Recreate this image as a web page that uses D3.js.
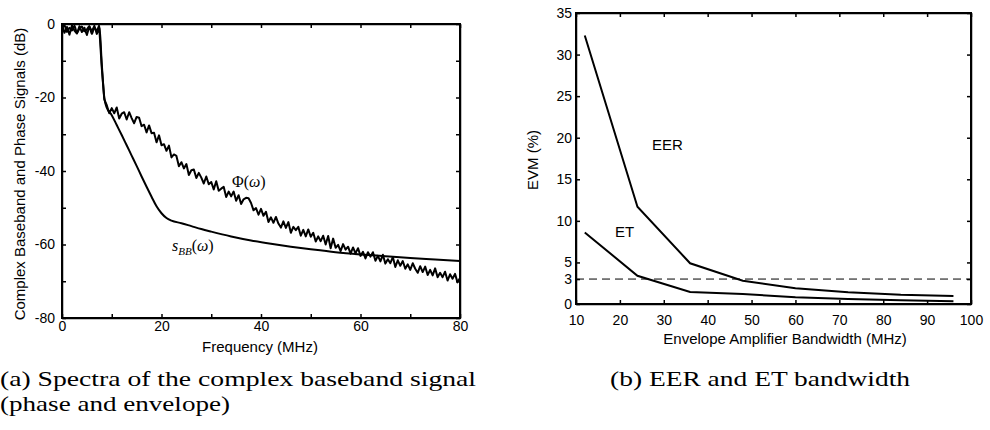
<!DOCTYPE html>
<html>
<head>
<meta charset="utf-8">
<script src="https://cdn.jsdelivr.net/npm/d3@7"></script>
<style>
  body { margin: 0; background: #fff; }
  svg { display: block; }
  .ax text { font-family: "Liberation Sans", Arial, sans-serif; font-size: 14px; fill: #000; }
  .ax path, .ax line { stroke: #000; stroke-width: 1.5; }
  .title { font-family: "Liberation Sans", Arial, sans-serif; font-size: 15px; }
  .note { font-family: "Liberation Serif", "Times New Roman", serif; font-size: 16px; }
  .cap { font-family: "Liberation Serif", "Times New Roman", serif; font-size: 22px; }
</style>
</head>
<body>
<svg id="svg" width="990" height="430"></svg>
<script>
// ---- (a) spectra ----
// phase spectrum, one sample every 0.5 MHz starting at 0 MHz
const phiStartMHz = 0;
const phiStepMHz = 0.5;
const phiDb = [
  -0.3, -2.4, -0.8, -2.9, -0.4, -1.8, -2.6, -0.6, -2.2, -1.0, -3.0, -0.7, -2.0, -0.5, -2.7, -1.2,
  -12.0, -20.5,
  -22.1, -24.3, -22.9, -24.3, -22.7, -25.7, -24.4, -24.0, -26.0, -24.0, -25.6, -27.0, -25.3, -25.5,
  -27.8, -27.4, -29.5, -27.6, -29.7, -29.6, -32.2, -30.3, -33.0, -32.7, -34.5, -33.1, -36.3, -35.5,
  -35.9, -38.7, -37.6, -39.3, -38.1, -41.1, -39.8, -39.6, -41.9, -40.5, -41.8, -43.4, -41.5, -43.6,
  -43.0, -45.0, -42.8, -45.4, -44.8, -44.3, -47.1, -45.6, -46.9, -45.6, -48.1, -46.6, -49.0, -47.7,
  -47.3, -47.4, -48.7, -50.7, -50.1, -51.9, -50.3, -52.2, -51.1, -53.9, -52.6, -54.1, -52.5, -54.3,
  -55.4, -53.7, -55.5, -53.9, -56.8, -55.2, -56.1, -55.2, -57.6, -56.0, -57.8, -55.9, -57.9, -56.8,
  -59.2, -57.8, -59.1, -57.6, -60.0, -57.7, -61.0, -58.4, -60.9, -60.1, -61.8, -59.9, -61.4, -60.6,
  -62.5, -60.8, -62.4, -61.0, -63.1, -62.0, -63.8, -62.1, -63.3, -62.1, -64.4, -63.1, -64.6, -62.8,
  -65.2, -64.0, -65.1, -63.4, -66.1, -64.3, -65.8, -64.5, -66.6, -65.4, -66.9, -65.1, -66.6, -67.7,
  -65.9, -67.5, -66.0, -68.3, -66.9, -68.4, -66.5, -68.9, -67.7, -68.9, -67.4, -69.8, -68.1, -69.3,
  -68.0, -70.3, -69.1
];

// complex baseband spectrum
const sbbMHz = [0, 0.5, 1, 1.5, 2, 2.5, 3, 3.5, 4, 4.5, 5, 5.5, 6, 6.5, 7, 7.5, 8, 8.5, 9, 10, 11, 12, 13, 14,
  15, 16, 17, 18, 19, 20, 21, 22, 24, 26, 28, 30, 34, 38, 42, 46, 50, 55, 60, 65, 70, 75, 80];
const sbbDb = [-1.2, -0.4, -2.2, -1.0, -1.8, -0.5, -2.4, -1.3, -0.7, -2.0, -1.5, -0.6, -2.7, -1.0, -1.8, -0.4,
  -11.0, -20.0, -22.8, -24.8, -27.5, -30.2, -33.0, -35.8, -38.6, -41.5, -44.3, -47.0, -49.6, -51.5, -52.8,
  -53.5, -54.2, -55.0, -55.8, -56.5, -57.8, -58.9, -59.8, -60.6, -61.3, -62.1, -62.7, -63.2, -63.7, -64.1, -64.5];

const freqTicks = [0, 10, 20, 30, 40, 50, 60, 70, 80];
const dbTicks = [-80, -70, -60, -50, -40, -30, -20, -10, 0];

// ---- (b) EVM vs envelope bandwidth ----
const bwMHz = [12, 24, 36, 48, 60, 72, 84, 96];
const eerEvm = [32.3, 11.7, 4.9, 2.8, 1.9, 1.4, 1.1, 0.95];
const etEvm = [8.6, 3.4, 1.45, 1.2, 0.8, 0.6, 0.45, 0.33];
const evmLimit = 3;
const bwTicks = [10, 20, 30, 40, 50, 60, 70, 80, 90, 100];
const evmTicks = [0, 3, 5, 10, 15, 20, 25, 30, 35];

const svg = d3.select("#svg");

// draws a boxed axes with inward ticks on all four sides
function drawFrame(x, y, xTicks, yTicks, xFmt, yFmt, xPad, yPad) {
  const [x0, x1] = x.range();
  const [y0, y1] = y.range();
  const g = svg.append("g").attr("class", "ax");
  g.append("g").attr("transform", `translate(0,${y0})`)
    .call(d3.axisBottom(x).tickValues(xTicks).tickFormat(xFmt).tickSizeInner(-4).tickSizeOuter(0).tickPadding(xPad));
  g.append("g").attr("transform", `translate(0,${y1})`)
    .call(d3.axisTop(x).tickValues(xTicks).tickFormat("").tickSizeInner(-4).tickSizeOuter(0));
  g.append("g").attr("transform", `translate(${x0},0)`)
    .call(d3.axisLeft(y).tickValues(yTicks).tickFormat(yFmt).tickSizeInner(-4).tickSizeOuter(0).tickPadding(yPad));
  g.append("g").attr("transform", `translate(${x1},0)`)
    .call(d3.axisRight(y).tickValues(yTicks).tickFormat("").tickSizeInner(-4).tickSizeOuter(0));
  g.append("rect")
    .attr("x", x0).attr("y", y1).attr("width", x1 - x0).attr("height", y0 - y1)
    .attr("fill", "none").attr("stroke", "#000").attr("stroke-width", 2);
  return g;
}

// ---- panel (a) ----
const xa = d3.scaleLinear().domain([0, 80]).range([62, 460]);
const ya = d3.scaleLinear().domain([-80, 0]).range([318, 24]);
drawFrame(xa, ya, freqTicks, dbTicks,
  d => d % 20 === 0 ? d : "", d => d % 20 === 0 ? d : "", 3, 7);

const phiPts = phiDb.map((v, i) => [phiStartMHz + i * phiStepMHz, v]);
const sbbPts = sbbMHz.map((f, i) => [f, sbbDb[i]]);
const lineA = d3.line().x(d => xa(d[0])).y(d => ya(d[1]));

svg.append("path").datum(sbbPts)
  .attr("d", lineA.curve(d3.curveMonotoneX))
  .attr("fill", "none").attr("stroke", "#000").attr("stroke-width", 2);
svg.append("path").datum(phiPts)
  .attr("d", lineA.curve(d3.curveLinear))
  .attr("fill", "none").attr("stroke", "#000").attr("stroke-width", 2)
  .attr("stroke-linejoin", "round");

const phiLbl = svg.append("text").attr("class", "note").attr("x", 232).attr("y", 187);
phiLbl.append("tspan").text("Φ(");
phiLbl.append("tspan").attr("font-style", "italic").text("ω");
phiLbl.append("tspan").text(")");

const sbbLbl = svg.append("text").attr("class", "note").attr("x", 172).attr("y", 251);
sbbLbl.append("tspan").attr("font-style", "italic").text("s");
sbbLbl.append("tspan").attr("font-style", "italic").attr("font-size", 11).attr("dy", 4).text("BB");
sbbLbl.append("tspan").attr("dy", -4).text("(");
sbbLbl.append("tspan").attr("font-style", "italic").text("ω");
sbbLbl.append("tspan").text(")");

svg.append("text").attr("class", "title")
  .attr("x", 260).attr("y", 352).attr("text-anchor", "middle")
  .text("Frequency (MHz)");
svg.append("text").attr("class", "title")
  .attr("transform", "translate(25,174) rotate(-90)").attr("text-anchor", "middle")
  .text("Complex Baseband and Phase Signals (dB)");

// ---- panel (b) ----
const xb = d3.scaleLinear().domain([10, 100]).range([576, 971]);
const yb = d3.scaleLinear().domain([0, 35]).range([304, 13]);
drawFrame(xb, yb, bwTicks, evmTicks, d => d, d => d, 11, 4);

svg.append("line")
  .attr("x1", xb(10)).attr("x2", xb(100))
  .attr("y1", yb(evmLimit)).attr("y2", yb(evmLimit))
  .attr("stroke", "#000").attr("stroke-width", 1).attr("stroke-dasharray", "8,5");

const lineB = d3.line().x((d, i) => xb(bwMHz[i])).y(d => yb(d));
svg.append("path").datum(eerEvm).attr("d", lineB)
  .attr("fill", "none").attr("stroke", "#000").attr("stroke-width", 2);
svg.append("path").datum(etEvm).attr("d", lineB)
  .attr("fill", "none").attr("stroke", "#000").attr("stroke-width", 2);

svg.append("text").attr("class", "title").attr("x", 652).attr("y", 150).text("EER");
svg.append("text").attr("class", "title").attr("x", 615).attr("y", 237).text("ET");

svg.append("text").attr("class", "title")
  .attr("x", 785).attr("y", 344).attr("text-anchor", "middle")
  .text("Envelope Amplifier Bandwidth (MHz)");
svg.append("text").attr("class", "title")
  .attr("transform", "translate(538,160) rotate(-90)").attr("text-anchor", "middle")
  .text("EVM (%)");

// ---- captions ----
svg.append("text").attr("class", "cap").attr("x", 0).attr("y", 386)
  .attr("textLength", 476).attr("lengthAdjust", "spacingAndGlyphs")
  .text("(a) Spectra of the complex baseband signal");
svg.append("text").attr("class", "cap").attr("x", 0).attr("y", 411)
  .attr("textLength", 230).attr("lengthAdjust", "spacingAndGlyphs")
  .text("(phase and envelope)");
svg.append("text").attr("class", "cap").attr("x", 610).attr("y", 386)
  .attr("textLength", 300).attr("lengthAdjust", "spacingAndGlyphs")
  .text("(b) EER and ET bandwidth");
</script>
</body>
</html>
